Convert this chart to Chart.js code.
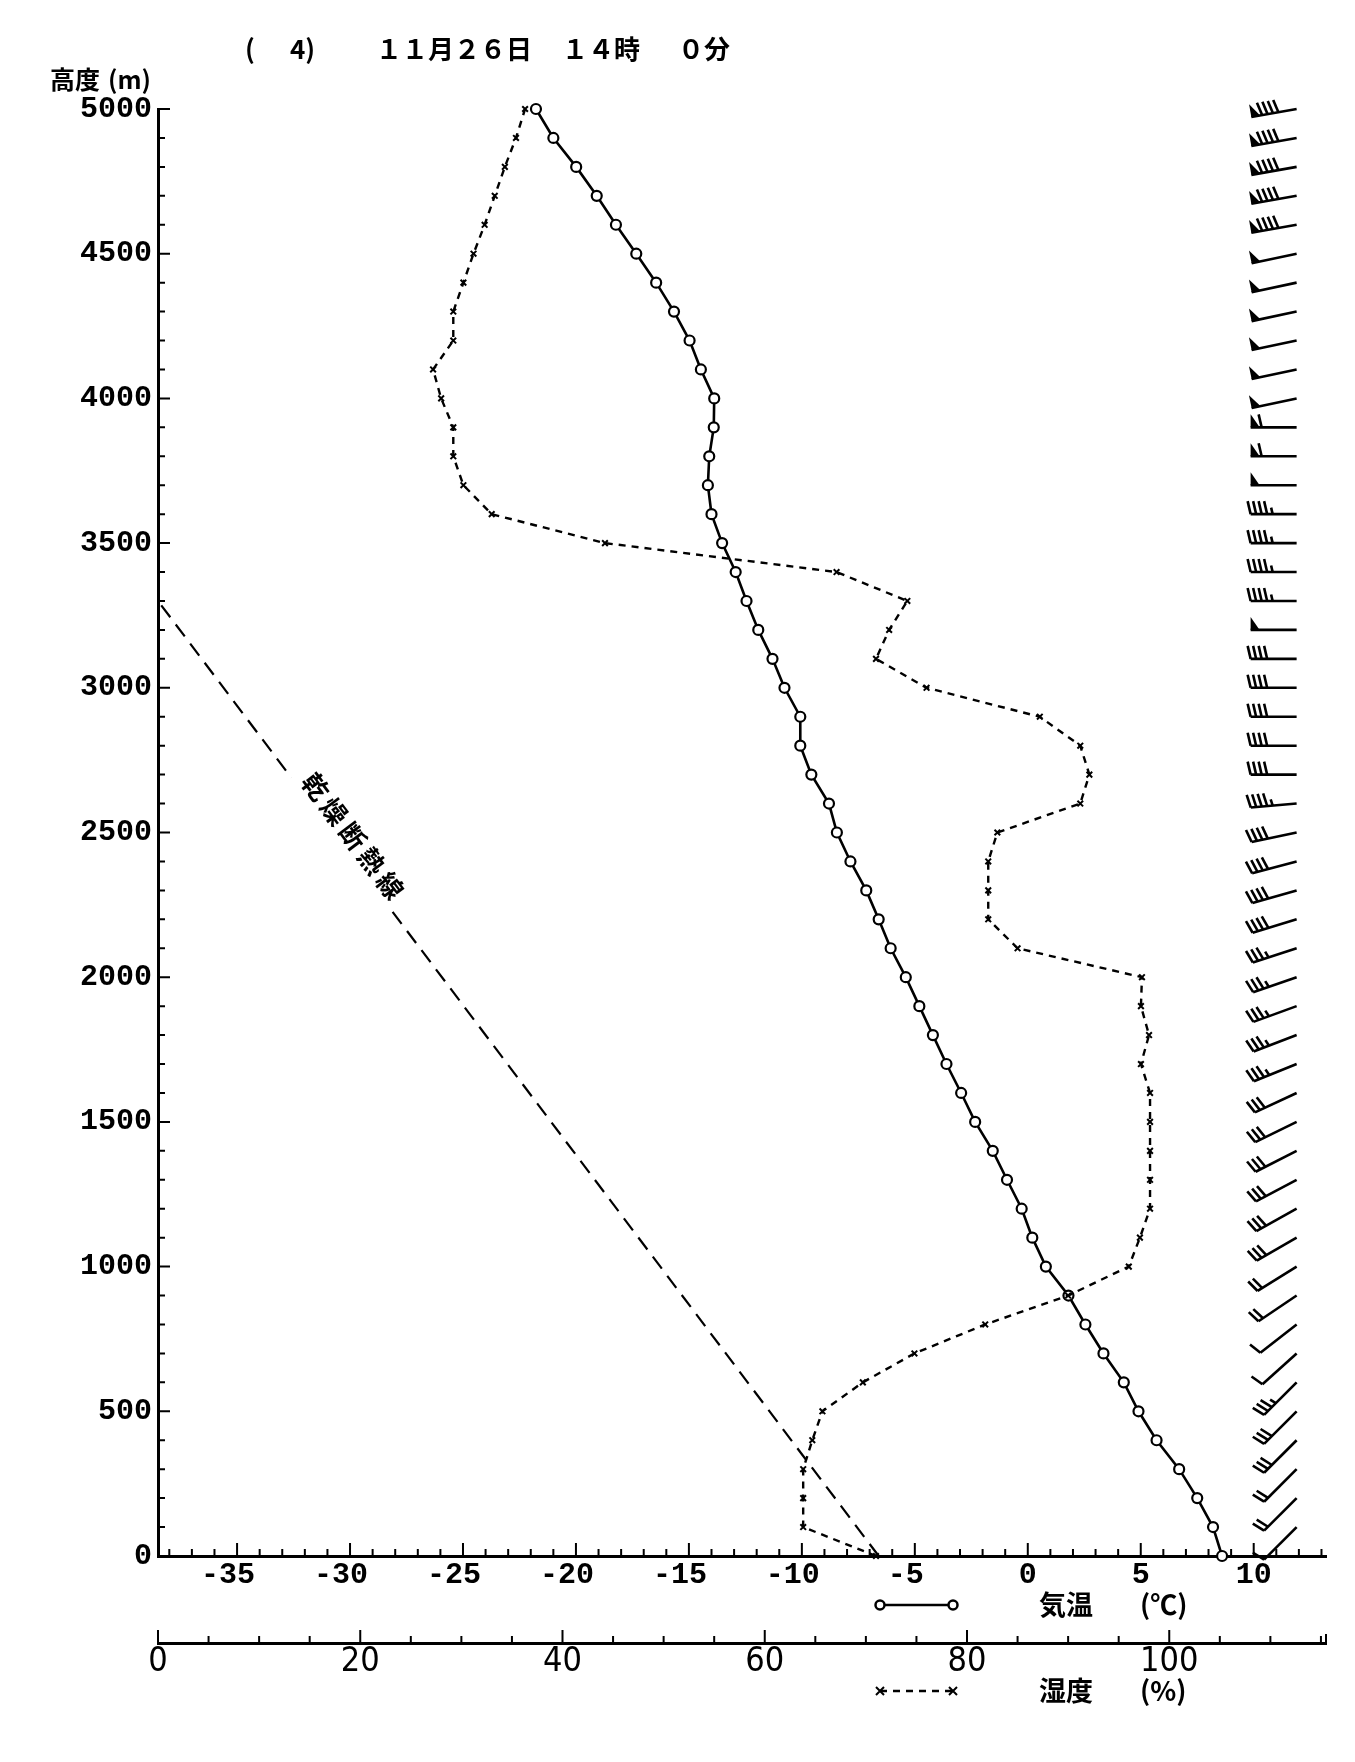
<!DOCTYPE html>
<html>
<head>
<meta charset="utf-8">
<script src="https://cdn.jsdelivr.net/npm/chart.js@4.4.1/dist/chart.umd.min.js"></script>
<style>
  html, body { margin: 0; padding: 0; background: #fff; }
  #wrap { width: 1355px; height: 1762px; }
</style>
</head>
<body>
<div id="wrap"><canvas id="sonde" width="1355" height="1762"></canvas></div>
<script>
// ---- data ----
const heights = [0,100,200,300,400,500,600,700,800,900,1000,1100,1200,1300,1400,1500,1600,1700,1800,1900,
  2000,2100,2200,2300,2400,2500,2600,2700,2800,2900,3000,3100,3200,3300,3400,3500,3600,3700,3800,3900,
  4000,4100,4200,4300,4400,4500,4600,4700,4800,4900,5000];

// air temperature (°C)
const temps = [8.6,8.2,7.5,6.7,5.7,4.9,4.25,3.35,2.55,1.8,0.8,0.2,-0.27,-0.92,-1.55,-2.33,-2.95,-3.6,-4.2,-4.8,
  -5.4,-6.07,-6.6,-7.15,-7.85,-8.45,-8.8,-9.58,-10.07,-10.07,-10.77,-11.3,-11.93,-12.45,-12.93,-13.53,-14.0,-14.16,-14.1,-13.9,
  -13.88,-14.47,-14.97,-15.66,-16.45,-17.33,-18.23,-19.08,-19.99,-21.0,-21.77];

// relative humidity (%)
const humidity = [71.0,63.8,63.8,63.8,64.7,65.7,69.7,74.8,81.8,90.0,96.0,97.1,98.1,98.1,98.1,98.1,98.1,97.2,98.0,97.2,
  97.3,85.0,82.1,82.1,82.1,83.0,91.2,92.1,91.2,87.2,76.0,71.0,72.3,74.1,67.1,44.2,33.0,30.2,29.2,29.2,
  28.0,27.2,29.2,29.2,30.2,31.2,32.3,33.3,34.3,35.4,36.3];

// dry adiabat guide line
const dryTemps = [-6.6, -38.5];
const dryHeights = [0, 3300];

// winds: direction (deg, from) and speed (kt) at 100 m steps
const windHeights = [100,200,300,400,500,600,700,800,900,1000,1100,1200,1300,1400,1500,1600,1700,1800,1900,2000,
  2100,2200,2300,2400,2500,2600,2700,2800,2900,3000,3100,3200,3300,3400,3500,3600,3700,3800,3900,4000,
  4100,4200,4300,4400,4500,4600,4700,4800,4900,5000];
const windDir = [225,225,225,225,225,225,228,232,236,238,240,241,242,243,244,245,248,249,250,251,
  252,253,254,255,258,265,270,270,270,270,270,270,270,270,270,270,270,270,270,258,
  258,258,258,258,258,260,260,260,260,260];
const windSpd = [10,20,20,30,30,35,10,10,20,20,30,30,30,30,30,30,35,35,35,35,
  35,40,40,40,40,45,40,40,40,40,40,50,45,45,45,45,50,60,60,50,
  50,50,50,50,50,90,90,90,90,90];

// axis ticks
const heightTicks = [0,500,1000,1500,2000,2500,3000,3500,4000,4500,5000];
const tempTicks = [-35,-30,-25,-20,-15,-10,-5,0,5,10];
const humTicks = [0,20,40,60,80,100];

const TEMP_MIN = -38.5, TEMP_MAX = 13.2, HUM_MAX = 115.5;
const BARB_T = 11.9;   // station column of the wind barbs, on the temperature scale

const MONO = '"Liberation Mono", "DejaVu Sans Mono", monospace';
const JP = '"Noto Sans CJK JP", "Noto Sans CJK SC", sans-serif';

function pts(xs, ys) { return xs.map((v, i) => ({ x: v, y: ys[i] })); }

function drawBarb(ctx, x, y, dir, spd) {
  const L = 46, F = 13, GAP = 5.5, PW = 9;
  const r = dir * Math.PI / 180;
  const dx = Math.sin(r), dy = -Math.cos(r);
  const ux = -dy, uy = dx;                 // feather side
  const at = d => [x + dx * d, y + dy * d];
  ctx.beginPath();
  ctx.moveTo(x, y);
  ctx.lineTo(...at(L));
  ctx.stroke();
  let s = Math.round(spd / 5) * 5;
  let pos = L;
  while (s >= 50) {
    const [ax, ay] = at(pos), [bx, by] = at(pos - PW);
    ctx.beginPath();
    ctx.moveTo(ax, ay);
    ctx.lineTo(ax + ux * F, ay + uy * F);
    ctx.lineTo(bx, by);
    ctx.closePath();
    ctx.fill();
    pos -= PW + 2; s -= 50;
  }
  while (s >= 10) {
    const [ax, ay] = at(pos);
    ctx.beginPath();
    ctx.moveTo(ax, ay);
    ctx.lineTo(ax + ux * F + dx * 3, ay + uy * F + dy * 3);
    ctx.stroke();
    pos -= GAP; s -= 10;
  }
  if (s >= 5) {
    const [ax, ay] = at(pos);
    ctx.beginPath();
    ctx.moveTo(ax, ay);
    ctx.lineTo(ax + ux * F * 0.5 + dx * 1.5, ay + uy * F * 0.5 + dy * 1.5);
    ctx.stroke();
  }
}

const sheetPlugin = {
  id: 'sheet',
  afterDatasetsDraw(chart) {
    const { ctx, chartArea: a, scales } = chart;
    const yS = scales.y, tS = scales.xT, hS = scales.xH;
    ctx.save();
    ctx.strokeStyle = '#000';
    ctx.fillStyle = '#000';
    ctx.lineCap = 'butt';

    // inward tick marks
    ctx.lineWidth = 2;
    ctx.beginPath();
    for (let h = 0; h <= 5000; h += 100) {
      const py = yS.getPixelForValue(h);
      const len = heightTicks.includes(h) ? 12 : 7;
      ctx.moveTo(a.left, py); ctx.lineTo(a.left + len, py);
    }
    for (let t = Math.ceil(TEMP_MIN); t <= Math.floor(TEMP_MAX); t++) {
      const px = tS.getPixelForValue(t);
      const len = tempTicks.includes(t) ? 13 : 7;
      ctx.moveTo(px, a.bottom); ctx.lineTo(px, a.bottom - len);
    }
    const hy = hS.top;
    for (let v = 0; v <= HUM_MAX; v += 5) {
      const px = hS.getPixelForValue(v);
      const len = humTicks.includes(v) ? 13 : 7;
      ctx.moveTo(px, hy); ctx.lineTo(px, hy - len);
    }
    ctx.moveTo(hS.right, hy); ctx.lineTo(hS.right, hy - 9);
    ctx.stroke();

    // wind barbs
    ctx.lineWidth = 2.6;
    ctx.lineJoin = 'miter';
    const bx = tS.getPixelForValue(BARB_T);
    windHeights.forEach((h, i) => drawBarb(ctx, bx, yS.getPixelForValue(h), windDir[i], windSpd[i]));

    // dry adiabat label, laid along the line
    const p0x = tS.getPixelForValue(dryTemps[1]), p0y = yS.getPixelForValue(dryHeights[1]);
    const p1x = tS.getPixelForValue(dryTemps[0]), p1y = yS.getPixelForValue(dryHeights[0]);
    const ang = Math.atan2(p1y - p0y, p1x - p0x);
    const f = 0.255;
    const cx = p0x + (p1x - p0x) * f + Math.sin(ang) * 14;
    const cy = p0y + (p1y - p0y) * f - Math.cos(ang) * 14;
    ctx.save();
    ctx.translate(cx, cy);
    ctx.rotate(ang);
    ctx.fillStyle = '#fff';
    ctx.fillRect(-84, -16, 168, 34);
    ctx.fillStyle = '#000';
    ctx.font = 'bold 26px ' + JP;
    ctx.textAlign = 'center';
    ctx.textBaseline = 'middle';
    const label = '乾燥断熱線';
    [...label].forEach((ch, i) => ctx.fillText(ch, (i - 2) * 31, 0));
    ctx.restore();

    // titles
    ctx.textBaseline = 'middle';
    ctx.textAlign = 'left';
    ctx.font = 'bold 26px ' + JP;
    ctx.fillText('(', 245, 49);
    ctx.fillText('4)', 290, 49);
    ctx.fillText('１１月２６日', 376, 49);
    ctx.fillText('１４時', 562, 49);
    ctx.fillText('０分', 678, 49);
    ctx.font = 'bold 25px ' + JP;
    ctx.fillText('高度', 50, 79);
    ctx.fillText('(m)', 108, 79);

    // legend rows
    const lx0 = 880, lx1 = 953, ly1 = 1605, ly2 = 1691;
    ctx.lineWidth = 2.5;
    ctx.beginPath(); ctx.moveTo(lx0, ly1); ctx.lineTo(lx1, ly1); ctx.stroke();
    [lx0, lx1].forEach(px => {
      ctx.beginPath(); ctx.arc(px, ly1, 4.5, 0, Math.PI * 2);
      ctx.fillStyle = '#fff'; ctx.fill(); ctx.stroke();
    });
    ctx.fillStyle = '#000';
    ctx.setLineDash([7, 6]);
    ctx.beginPath(); ctx.moveTo(lx0, ly2); ctx.lineTo(lx1, ly2); ctx.stroke();
    ctx.setLineDash([]);
    ctx.lineWidth = 2;
    [lx0, lx1].forEach(px => {
      ctx.beginPath();
      ctx.moveTo(px - 4, ly2 - 4); ctx.lineTo(px + 4, ly2 + 4);
      ctx.moveTo(px - 4, ly2 + 4); ctx.lineTo(px + 4, ly2 - 4);
      ctx.stroke();
    });
    ctx.font = 'bold 27px ' + JP;
    ctx.fillText('気温', 1039, ly1);
    ctx.fillText('(℃)', 1140, ly1);
    ctx.fillText('湿度', 1039, ly2);
    ctx.fillText('(%)', 1140, ly2);
    ctx.restore();
  }
};

new Chart(document.getElementById('sonde'), {
  type: 'scatter',
  data: {
    datasets: [
      {
        label: '乾燥断熱線',
        data: pts(dryTemps, dryHeights),
        xAxisID: 'xT', yAxisID: 'y',
        showLine: true, borderColor: '#000', borderWidth: 2.2, borderDash: [15, 9],
        pointRadius: 0, clip: false
      },
      {
        label: '湿度',
        data: pts(humidity, heights),
        xAxisID: 'xH', yAxisID: 'y',
        showLine: true, borderColor: '#000', borderWidth: 2.4, borderDash: [7, 6],
        pointStyle: 'crossRot', pointRadius: 4, pointBorderWidth: 2,
        pointBorderColor: '#000', clip: false
      },
      {
        label: '気温',
        data: pts(temps, heights),
        xAxisID: 'xT', yAxisID: 'y',
        showLine: true, borderColor: '#000', borderWidth: 2.6,
        pointStyle: 'circle', pointRadius: 5, pointBorderWidth: 2.2,
        pointBackgroundColor: '#fff', pointBorderColor: '#000', clip: false
      }
    ]
  },
  options: {
    responsive: false,
    animation: false,
    layout: { padding: { top: 109, right: 29, bottom: 49, left: 0 } },
    plugins: { legend: { display: false }, tooltip: { enabled: false } },
    scales: {
      y: {
        type: 'linear', position: 'left', min: 0, max: 5000,
        afterBuildTicks: s => { s.ticks = heightTicks.map(v => ({ value: v })); },
        afterFit: s => { s.width = 158; },
        grid: { display: false, drawTicks: false },
        border: { display: true, color: '#000', width: 3 },
        ticks: {
          color: '#000', padding: 6,
          font: { family: MONO, size: 30, weight: 'bold', lineHeight: 1 },
          callback: v => '' + v
        }
      },
      xT: {
        type: 'linear', position: 'bottom', weight: 0, min: TEMP_MIN, max: TEMP_MAX,
        afterBuildTicks: s => { s.ticks = tempTicks.map(v => ({ value: v })); },
        afterFit: s => { s.height = 87; },
        grid: { display: false, drawTicks: false },
        border: { display: true, color: '#000', width: 3 },
        ticks: {
          color: '#000', padding: 4, maxRotation: 0, autoSkip: false,
          font: { family: MONO, size: 30, weight: 'bold', lineHeight: 1 },
          callback: v => (v < 0 ? v + ' ' : '' + v)
        }
      },
      xH: {
        type: 'linear', position: 'bottom', weight: 1, min: 0, max: HUM_MAX,
        afterBuildTicks: s => { s.ticks = humTicks.map(v => ({ value: v })); },
        afterFit: s => { s.height = 70; },
        grid: { display: false, drawTicks: false },
        border: { display: true, color: '#000', width: 3 },
        ticks: {
          color: '#000', padding: 2, maxRotation: 0, autoSkip: false,
          font: { family: '"Liberation Sans Narrow", "DejaVu Sans Condensed", sans-serif', size: 34, lineHeight: 1 },
          callback: v => '' + v
        }
      }
    }
  },
  plugins: [sheetPlugin]
});
</script>
</body>
</html>
